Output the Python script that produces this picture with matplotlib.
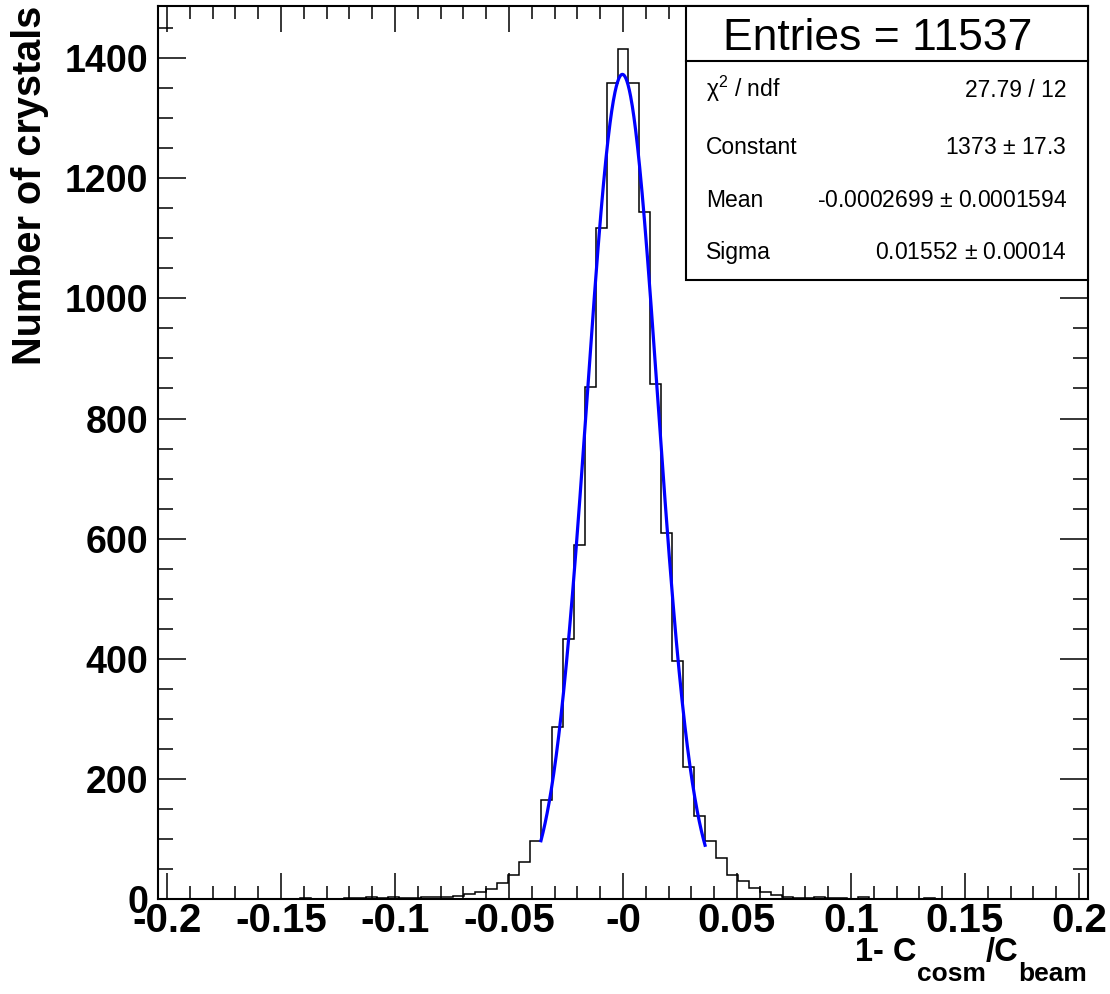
import matplotlib
matplotlib.use("Agg")
import matplotlib.pyplot as plt
import numpy as np
from matplotlib.patches import Rectangle
from matplotlib.ticker import MultipleLocator

plt.rcParams['font.family'] = ['Liberation Sans', 'DejaVu Sans']
plt.rcParams['mathtext.fontset'] = 'custom'
plt.rcParams['mathtext.rm'] = 'Liberation Sans'
plt.rcParams['mathtext.bf'] = 'Liberation Sans:bold'
plt.rcParams['mathtext.it'] = 'Liberation Sans:italic'

# histogram: 85 bins from -0.204 to 0.204
x_lo, x_hi, n_bins = -0.204, 0.204, 85
counts = [0, 0, 0, 0, 0, 0, 0, 0, 0, 0,
          0, 0, 0, 1, 0, 0, 0, 1, 1, 3,
          1, 4, 1, 1, 3, 3, 4, 5, 8, 11,
          17, 27, 40, 61, 96, 164, 286, 433, 590, 853,
          1118, 1358, 1416, 1358, 1143, 857, 610, 397, 220, 138,
          97, 69, 40, 30, 19, 11, 7, 4, 2, 2,
          4, 2, 1, 0, 3, 0, 0, 0, 0, 0,
          1, 0, 0, 0, 0, 0, 0, 0, 0, 0,
          0, 0, 0, 0, 0]

# gaussian fit result (from the stats box)
fit_const = 1373.0
fit_mean = -0.0002699
fit_sigma = 0.01552
fit_range = (-0.036, 0.036)

xtick_vals = [-0.2, -0.15, -0.1, -0.05, 0.0, 0.05, 0.1, 0.15, 0.2]
xtick_text = ['-0.2', '-0.15', '-0.1', '-0.05', '-0', '0.05', '0.1', '0.15', '0.2']

stats_rows = [('χ$^{2}$ / ndf', '27.79 / 12'),
              ('Constant', '1373 $\\pm$ 17.3'),
              ('Mean', '-0.0002699 $\\pm$ 0.0001594'),
              ('Sigma', '0.01552 $\\pm$ 0.00014')]
entries = 11537

# x title pieces: (text, is_subscript)
xtitle = [('1- C', False), ('cosm', True), ('/C', False), ('beam', True)]

fig = plt.figure(figsize=(11.1, 9.94), dpi=100)
W, H = 1110, 994
ax = fig.add_axes([158 / W, 1 - 899 / H, 930 / W, 893 / H])

edges = np.linspace(x_lo, x_hi, n_bins + 1)
ax.stairs(counts, edges, color='black', lw=1.1)

xf = np.linspace(fit_range[0], fit_range[1], 400)
yf = fit_const * np.exp(-0.5 * ((xf - fit_mean) / fit_sigma) ** 2)
ax.plot(xf, yf, color='#0000ff', lw=2.3)

ax.set_xlim(x_lo, x_hi)
ax.set_ylim(0, 1.05 * max(counts))

ax.set_xticks(xtick_vals)
ax.set_xticklabels(xtick_text)
ax.xaxis.set_minor_locator(MultipleLocator(0.01))
ax.yaxis.set_major_locator(MultipleLocator(200))
ax.yaxis.set_minor_locator(MultipleLocator(50))

ax.tick_params(which='both', direction='in', top=True, right=True, width=1.1)
ax.tick_params(axis='x', which='major', length=19, pad=2)
ax.tick_params(axis='x', which='minor', length=9.5)
ax.tick_params(axis='y', which='major', length=20, pad=7)
ax.tick_params(axis='y', which='minor', length=10.5)
for lab in ax.get_xticklabels():
    lab.set_fontsize(29)
    lab.set_fontweight('bold')
for lab in ax.get_yticklabels():
    lab.set_fontsize(27)
    lab.set_fontweight('bold')
for sp in ax.spines.values():
    sp.set_linewidth(1.5)

ax.set_ylabel('Number of crystals', fontsize=28.5, fontweight='bold', loc='top')
ax.yaxis.set_label_coords(-0.117, 1.0)

# x title, built right to left so the subscripts can sit low like ROOT's
renderer = fig.canvas.get_renderer()
x_px = 1087
for txt, is_sub in reversed(xtitle):
    base = 981 if is_sub else 961
    t = fig.text(x_px / W, (H - base) / H, txt, fontsize=19 if is_sub else 23.5,
                 fontweight='bold', ha='right', va='baseline')
    x_px = t.get_window_extent(renderer).x0

# stats box
bx0, by0 = 0.5677, 0.6932
ax.add_patch(Rectangle((bx0, by0), 1 - bx0, 1 - by0, transform=ax.transAxes,
                       facecolor='white', edgecolor='black', lw=1.5,
                       clip_on=False, zorder=5))
ax.plot([bx0, 1.0], [0.9384, 0.9384], transform=ax.transAxes, color='black',
        lw=1.5, clip_on=False, zorder=6)
ax.text(0.7742, 0.9507, 'Entries = %d' % entries, transform=ax.transAxes,
        fontsize=32, ha='center', va='baseline', zorder=7)
row_y = [0.8984, 0.8343, 0.7746, 0.7163]
for (name, val), yy in zip(stats_rows, row_y):
    ax.text(0.5892, yy, name, transform=ax.transAxes, fontsize=16.5,
            ha='left', va='baseline', zorder=7)
    ax.text(0.9774, yy, val, transform=ax.transAxes, fontsize=16.5,
            ha='right', va='baseline', zorder=7)

fig.savefig('out.png', dpi=100)
